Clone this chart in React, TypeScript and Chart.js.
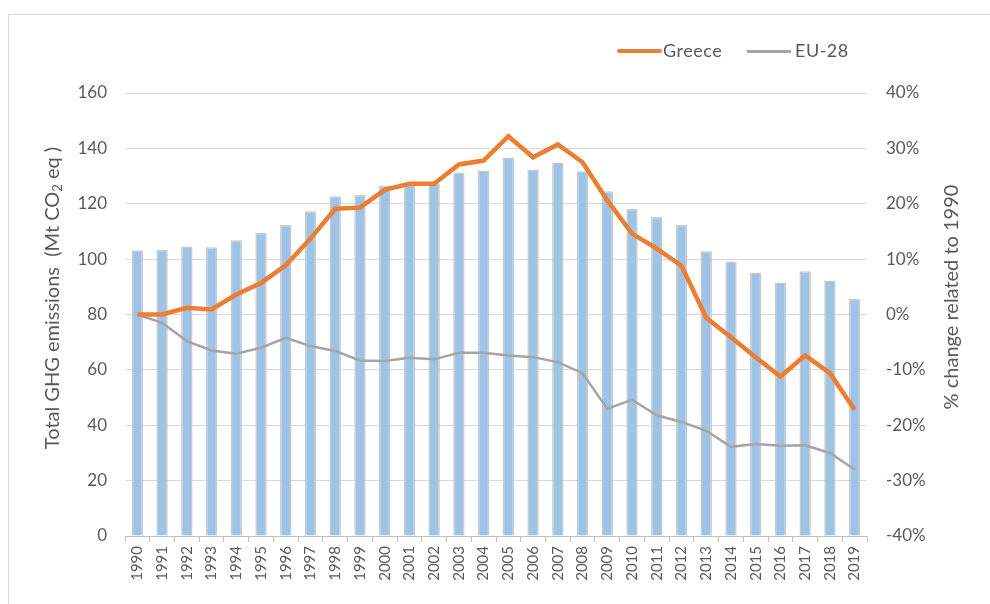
import React, { useEffect, useRef } from "react";
import { Chart, registerables } from "chart.js";

Chart.register(...registerables);

const years = [
  "1990", "1991", "1992", "1993", "1994", "1995", "1996", "1997", "1998", "1999",
  "2000", "2001", "2002", "2003", "2004", "2005", "2006", "2007", "2008", "2009",
  "2010", "2011", "2012", "2013", "2014", "2015", "2016", "2017", "2018", "2019",
];

const totalEmissions = [
  103.2, 103.3, 104.6, 104.3, 106.8, 109.4, 112.3, 117.3, 122.7, 123.2,
  126.5, 127.5, 127.3, 131.3, 132.0, 136.7, 132.4, 134.9, 131.7, 124.5,
  118.2, 115.2, 112.3, 102.8, 99.1, 95.2, 91.6, 95.6, 92.3, 85.7,
];

const greeceChange = [
  0, 0, 1.2, 0.9, 3.6, 5.7, 8.9, 13.7, 19.1, 19.3,
  22.5, 23.6, 23.6, 27.1, 27.8, 32.2, 28.4, 30.7, 27.5, 20.6,
  14.6, 11.9, 8.8, -0.6, -4.1, -7.7, -11.2, -7.4, -10.6, -17.2,
];

const euChange = [
  0, -1.5, -4.8, -6.5, -7.1, -6.0, -4.2, -5.7, -6.6, -8.3,
  -8.4, -7.8, -8.1, -6.9, -6.9, -7.4, -7.7, -8.6, -10.6, -17.0,
  -15.4, -18.2, -19.4, -21.0, -23.9, -23.4, -23.7, -23.6, -25.0, -28.0,
];

const leftTicks = [0, 20, 40, 60, 80, 100, 120, 140, 160];
const rightTicks = [-40, -30, -20, -10, 0, 10, 20, 30, 40];

const FONT = "Lato, 'Noto Sans', sans-serif";
const TEXT = "#595959";

const titlesPlugin = {
  id: "axisTitles",
  afterDraw(chart: any) {
    const ctx = chart.ctx;
    ctx.save();
    ctx.fillStyle = TEXT;
    ctx.textBaseline = "middle";
    ctx.textAlign = "left";
    const p1 = "Total GHG emissions  (Mt CO";
    const sub = "2";
    const p3 = " eq )";
    ctx.translate(53, 298);
    ctx.rotate(-Math.PI / 2);
    ctx.font = `20px ${FONT}`;
    const w1 = ctx.measureText(p1).width;
    const w3 = ctx.measureText(p3).width;
    ctx.font = `13px ${FONT}`;
    const ws = ctx.measureText(sub).width;
    let x = -(w1 + ws + w3) / 2;
    ctx.font = `20px ${FONT}`;
    ctx.fillText(p1, x, 0);
    x += w1;
    ctx.font = `13px ${FONT}`;
    ctx.fillText(sub, x, 5);
    x += ws;
    ctx.font = `20px ${FONT}`;
    ctx.fillText(p3, x, 0);
    ctx.restore();

    ctx.save();
    ctx.fillStyle = TEXT;
    ctx.textBaseline = "middle";
    ctx.textAlign = "center";
    ctx.font = `20px ${FONT}`;
    ctx.translate(952, 297);
    ctx.rotate(-Math.PI / 2);
    ctx.fillText("% change related to 1990", 0, 0);
    ctx.restore();
  },
};

export default function App() {
  const canvasRef = useRef<HTMLCanvasElement | null>(null);

  useEffect(() => {
    if (!canvasRef.current) return;
    const chart = new Chart(canvasRef.current, {
      type: "bar",
      data: {
        labels: years,
        datasets: [
          {
            type: "line",
            label: "Greece",
            data: greeceChange,
            yAxisID: "y1",
            borderColor: "#ED7D31",
            backgroundColor: "#ED7D31",
            borderWidth: 4.5,
            pointRadius: 0,
            tension: 0,
            order: 0,
          } as any,
          {
            type: "line",
            label: "EU-28",
            data: euChange,
            yAxisID: "y1",
            borderColor: "#A5A5A5",
            backgroundColor: "#A5A5A5",
            borderWidth: 2.5,
            pointRadius: 0,
            tension: 0,
            order: 1,
          } as any,
          {
            type: "bar",
            label: "Total GHG emissions",
            data: totalEmissions,
            yAxisID: "y",
            backgroundColor: "#9DC3E6",
            borderColor: "#C9C9C9",
            borderWidth: 1.5,
            categoryPercentage: 1,
            barPercentage: 0.46,
            order: 2,
          } as any,
        ],
      },
      options: {
        animation: false,
        responsive: false,
        maintainAspectRatio: false,
        layout: { padding: { left: 0, right: 0, top: 93, bottom: 0 } },
        plugins: {
          legend: { display: false },
          tooltip: { enabled: false },
        },
        scales: {
          x: {
            offset: true,
            grid: {
              display: true,
              offset: true,
              drawOnChartArea: false,
              drawTicks: true,
              tickLength: 6,
              color: "#BFBFBF",
            },
            border: { display: true, color: "#BFBFBF", width: 1 },
            ticks: {
              autoSkip: false,
              maxRotation: 90,
              minRotation: 90,
              padding: 4,
              color: TEXT,
              font: { family: FONT, size: 15 },
            },
            afterFit: (s: any) => {
              s.height = 68;
            },
          },
          y: {
            position: "left",
            min: 0,
            max: 160,
            afterBuildTicks: (s: any) => {
              s.ticks = leftTicks.map((v) => ({ value: v }));
            },
            grid: { color: "#D9D9D9", lineWidth: 1, drawTicks: false },
            border: { display: false },
            ticks: {
              padding: 18,
              color: TEXT,
              font: { family: FONT, size: 17 },
            },
            afterFit: (s: any) => {
              s.width = 125;
            },
          },
          y1: {
            position: "right",
            min: -40,
            max: 40,
            afterBuildTicks: (s: any) => {
              s.ticks = rightTicks.map((v) => ({ value: v }));
            },
            grid: { display: false, drawOnChartArea: false, drawTicks: false },
            border: { display: false },
            ticks: {
              padding: 19,
              color: TEXT,
              font: { family: FONT, size: 17 },
              callback: (v: any) => `${v}%`,
            },
            afterFit: (s: any) => {
              s.width = 123;
            },
          },
        },
      },
      plugins: [titlesPlugin],
    });
    return () => chart.destroy();
  }, []);

  const legendText: React.CSSProperties = {
    position: "absolute",
    top: 39,
    fontFamily: FONT,
    fontSize: 18,
    letterSpacing: "0.5px",
    color: TEXT,
    lineHeight: "22px",
    whiteSpace: "nowrap",
  };

  return (
    <div
      style={{
        position: "fixed",
        left: 0,
        top: 0,
        width: 990,
        height: 604,
        overflow: "hidden",
        background: "#fff",
      }}
    >
      <div
        style={{
          position: "absolute",
          left: 8,
          top: 14,
          width: 1000,
          height: 700,
          border: "1px solid #D9D9D9",
          boxSizing: "border-box",
        }}
      />
      <canvas
        ref={canvasRef}
        width={990}
        height={604}
        style={{ position: "absolute", left: 0, top: 0, width: 990, height: 604 }}
      />
      <div style={{ position: "absolute", left: 617, top: 49, width: 45, height: 4, background: "#ED7D31", borderRadius: 2 }} />
      <div style={{ ...legendText, left: 663 }}>Greece</div>
      <div style={{ position: "absolute", left: 747, top: 50, width: 44, height: 2.5, background: "#A5A5A5" }} />
      <div style={{ ...legendText, left: 795 }}>EU-28</div>
    </div>
  );
}
